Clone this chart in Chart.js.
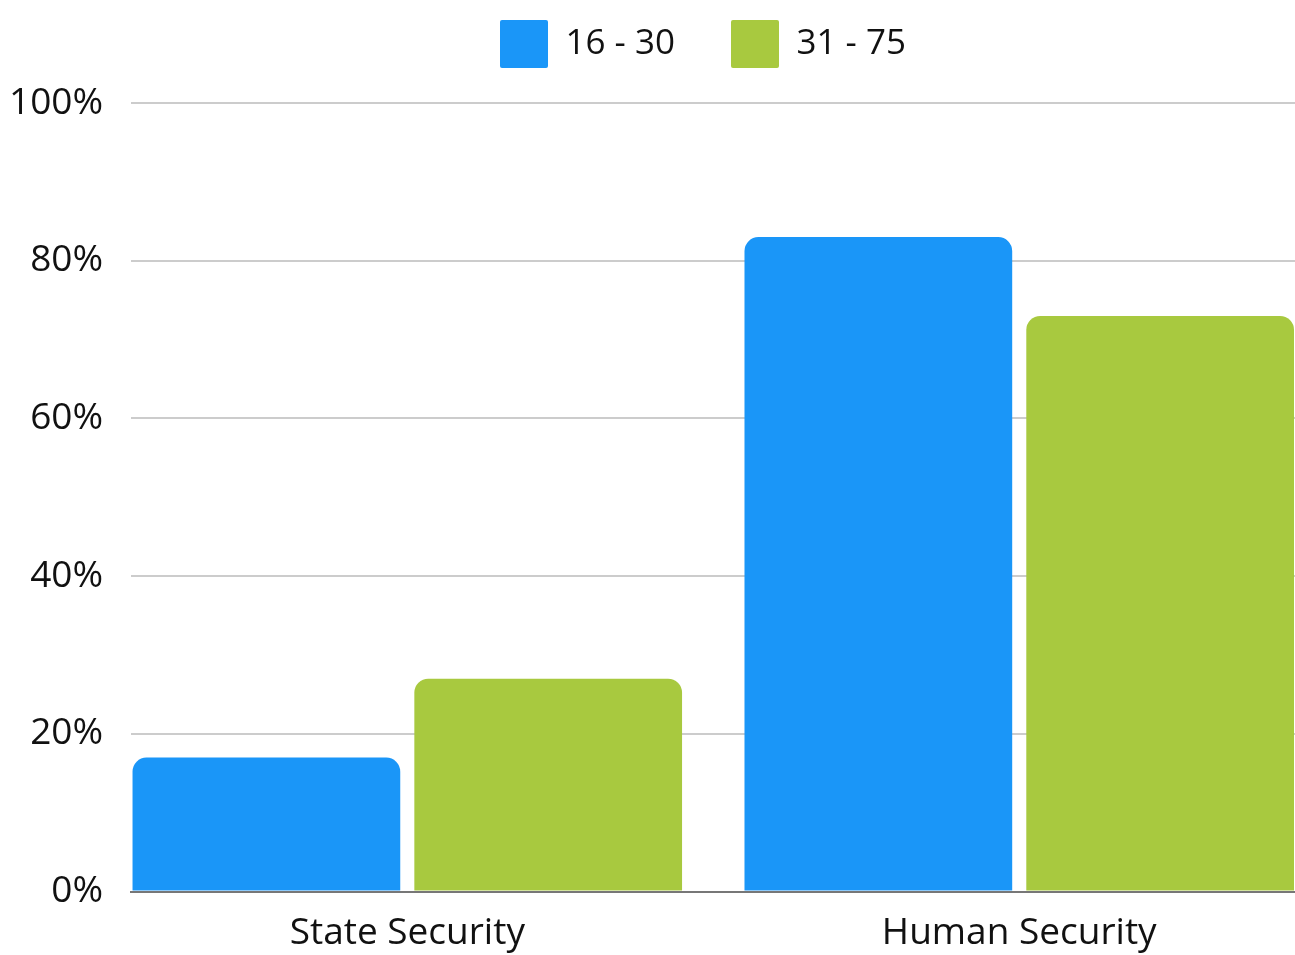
<!DOCTYPE html>
<html>
<head>
<meta charset="utf-8">
<script src="https://cdn.jsdelivr.net/npm/chart.js@4/dist/chart.umd.min.js"></script>
<style>
html,body{margin:0;padding:0;background:#fff;overflow:hidden}
#wrap{width:1295px;height:955px;position:relative}
</style>
</head>
<body>
<div id="wrap"><canvas id="c" width="1295" height="955"></canvas></div>
<script>
const categories = ["State Security", "Human Security"];
const seriesNames = ["16 - 30", "31 - 75"];
const young = [17, 83];
const older = [27, 73];
const yTicks = [0, 20, 40, 60, 80, 100];
const colors = ["#1a96f8", "#a8c93f"];

const FONT = "'Open Sans', 'Noto Sans', sans-serif";

const toPoints = arr => arr.map((v, i) => ({x: i, y: v}));

const legendSpace = {
  id: 'legendSpace',
  afterInit(chart) {
    const lg = chart.legend;
    if (!lg) return;
    const fit = lg.fit;
    lg.fit = function () { fit.call(this); this.height += 25; };
  },
  afterLayout(chart) {
    if (chart.legend) chart.legend.left += 130;
  }
};

new Chart(document.getElementById('c'), {
  type: 'bar',
  data: {
    datasets: [
      {label: seriesNames[0], data: toPoints(young), backgroundColor: colors[0]},
      {label: seriesNames[1], data: toPoints(older), backgroundColor: colors[1]}
    ]
  },
  plugins: [legendSpace],
  options: {
    responsive: false,
    animation: false,
    layout: {padding: {left: -19, right: 0, top: -36, bottom: -13}},
    datasets: {
      bar: {
        categoryPercentage: 0.921,
        barPercentage: 0.95,
        borderRadius: {topLeft: 14, topRight: 14, bottomLeft: 0, bottomRight: 0},
        borderSkipped: 'start'
      }
    },
    plugins: {
      legend: {
        position: 'top',
        labels: {
          font: {family: FONT, size: 35},
          color: '#111',
          boxWidth: 48,
          boxHeight: 48,
          padding: 56,
          useBorderRadius: true,
          borderRadius: 2
        }
      },
      tooltip: {enabled: false}
    },
    scales: {
      x: {
        type: 'linear',
        offset: false,
        bounds: 'ticks',
        min: -0.4514,
        max: 1.4506,
        afterBuildTicks: s => { s.ticks = categories.map((_, i) => ({value: i})); },
        ticks: {
          callback: v => categories[v] ?? '',
          font: {family: FONT, size: 37},
          color: '#111',
          padding: 12,
          maxRotation: 0,
          autoSkip: false
        },
        grid: {display: false, offset: false},
        border: {display: true, color: '#777', width: 2}
      },
      y: {
        min: 0,
        max: 100,
        afterBuildTicks: s => { s.ticks = yTicks.map(v => ({value: v})); },
        ticks: {
          callback: v => v + '%',
          font: {family: FONT, size: 37},
          color: '#111',
          padding: 28
        },
        grid: {color: '#cccccc', lineWidth: 2, drawTicks: false},
        border: {display: false}
      }
    }
  }
});
</script>
</body>
</html>
